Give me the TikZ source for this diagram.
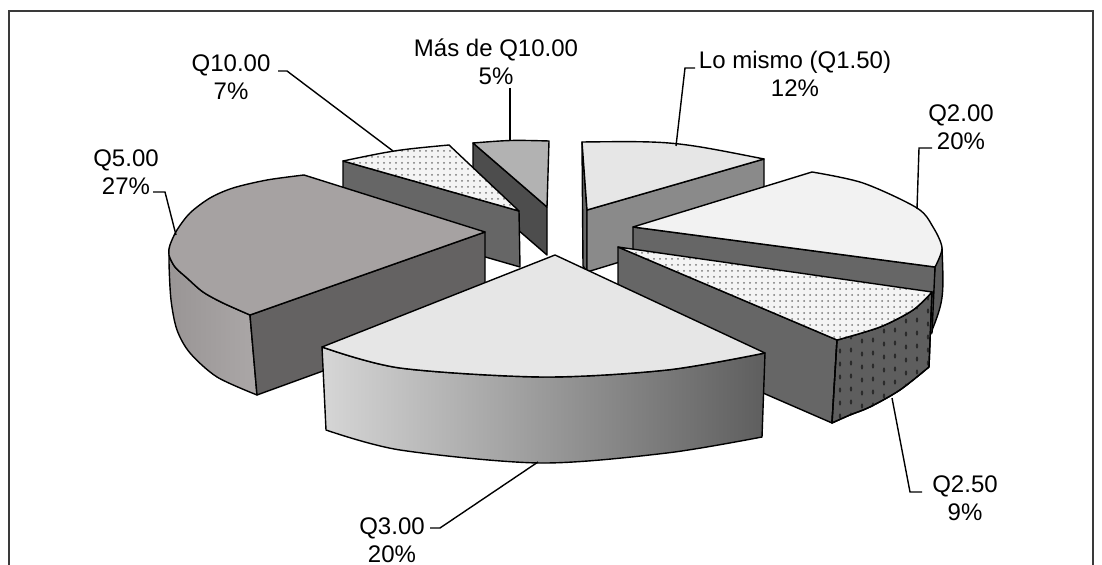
\documentclass[tikz,border=0pt]{standalone}
\usepackage{fontspec}
\setmainfont{Liberation Sans}
\usetikzlibrary{patterns}
\definecolor{sidegray}{HTML}{666666}
\definecolor{masdark}{HTML}{4D4D4D}
\definecolor{mastop}{HTML}{B2B2B2}
\definecolor{dottop}{HTML}{F4F4F4}
\definecolor{lomtop}{HTML}{E6E6E6}
\definecolor{lomside}{HTML}{8A8A8A}
\definecolor{qfivetop}{HTML}{A6A2A2}
\definecolor{qfiveside}{HTML}{646262}
\definecolor{qfiveL}{HTML}{999595}
\definecolor{qfiveR}{HTML}{ABA7A7}
\definecolor{qtwotop}{HTML}{F2F2F2}
\definecolor{qthreetop}{HTML}{E6E6E6}
\definecolor{qthreeL}{HTML}{D6D6D6}
\definecolor{qthreeR}{HTML}{5E5E5E}
\definecolor{qtfouter}{HTML}{5E5E5E}
\definecolor{darkdot}{HTML}{2B2B2B}
\definecolor{dotgray}{HTML}{777777}
\definecolor{framegray}{HTML}{3A3A3A}
\begin{document}
\begin{tikzpicture}[x=0.5pt,y=-0.5pt,
  edge/.style={draw=black,line width=0.7pt,line join=round},
  dotted face/.style={edge,preaction={fill=dottop},pattern=dots,pattern color=dotgray},
  lbl/.style={align=center,font=\fontsize{12}{14}\selectfont,inner sep=0pt},
  leader/.style={draw=black,line width=0.7pt},
  framestyle/.style={draw=framegray,line width=0.8pt}]
\useasboundingbox (0,0) rectangle (1102,565);
\begin{scope}
  \clip (0,0) rectangle (1102,565);
  \draw[framestyle] (9,11) rectangle (1093,600);
\end{scope}

% ---- Mas de Q10.00 (5%)
\filldraw[edge,fill=masdark] (473,143) -- (547,207) -- (547,255) -- (473,191) -- cycle;
\filldraw[edge,fill=mastop] (473,143) .. controls (511,140) .. (549,141) -- (547,207) -- cycle;

% ---- Q10.00 (7%)
\filldraw[edge,fill=sidegray] (343,161) -- (519,211) -- (520,267) -- (343,216) -- cycle;
\path[dotted face] (343,161) .. controls (396,150) .. (449,145) -- (519,211) -- cycle;

% ---- Lo mismo (12%)
\filldraw[edge,fill=lomside!75!black] (582,142) -- (587,210) -- (587,272) -- (583,266) -- cycle;
\filldraw[edge,fill=lomside] (587,210) -- (764,159) -- (764,218) -- (587,272) -- cycle;
\filldraw[edge,fill=lomtop] (582,142) .. controls (673,141) .. (764,159) -- (587,210) -- cycle;

% ---- Q5.00 (27%)
\path[edge,left color=qfiveL,right color=qfiveR] (250,315) -- (257,395) -- plot[smooth] coordinates {(257,395)(217,377)(190,353)(177,330)(171,300)(169,262)(170,245)} -- plot[smooth] coordinates {(170,245)(169,255)(175,267)(187,278)(203,292)(223,303)(250,315)} -- cycle;
\filldraw[edge,fill=qfiveside] (250,315) -- (485,232) -- (485,312) -- (257,395) -- cycle;
\filldraw[edge,fill=qfivetop] (304,175) -- (485,232) -- (250,315) -- plot[smooth] coordinates {(250,315)(223,303)(203,292)(187,278)(175,267)(169,255)(170,245)(177,230)(190,213)(210,198)(233,188)(267,180)(304,175)} -- cycle;

% ---- Q2.00 (20%)
\filldraw[edge,fill=sidegray!90!black] (942,248) .. controls (944,300) .. (929,338) -- (935,267) -- cycle;
\filldraw[edge,fill=sidegray] (633,227) -- (935,267) -- (932,333) -- (633,293) -- cycle;
\filldraw[edge,fill=qtwotop] (633,227) -- (812,172) -- plot[smooth] coordinates {(812,172)(863,183)(917,208)(933,227)(942,248)(935,267)} -- cycle;

% ---- Q2.50 (9%)
\filldraw[edge,fill=sidegray] (618,247) -- (837,340) -- (832,423) -- (618,330) -- cycle;
\filldraw[edge,fill=qtfouter] (837,340) -- plot[smooth] coordinates {(837,340)(880,327)(913,310)(932,292)} -- (929,367) -- plot[smooth] coordinates {(929,367)(900,390)(870,407)(850,415)(832,423)} -- cycle;
\begin{scope}
  \clip (837,340) -- plot[smooth] coordinates {(837,340)(880,327)(913,310)(932,292)} -- (929,367) -- plot[smooth] coordinates {(929,367)(900,390)(870,407)(850,415)(832,423)} -- cycle;
  \foreach \i in {0,...,10} {
    \foreach \j in {0,...,8} {
      \fill[darkdot] ({840+\i*11},{338+\j*13-\i*5+mod(\i,2)*4}) ellipse (0.6pt and 1.3pt);
    }
  }
\end{scope}
\draw[edge] (837,340) -- plot[smooth] coordinates {(837,340)(880,327)(913,310)(932,292)} -- (929,367) -- plot[smooth] coordinates {(929,367)(900,390)(870,407)(850,415)(832,423)} -- cycle;
\path[dotted face] (618,247) -- (932,292) -- plot[smooth] coordinates {(932,292)(913,310)(880,327)(837,340)} -- cycle;

% ---- Q3.00 (20%)
\path[edge,left color=qthreeL,right color=qthreeR] (322,347) -- plot[smooth] coordinates {(322,347)(400,368)(543,377)(667,370)(765,353)} -- (762,437) -- plot[smooth] coordinates {(762,437)(667,453)(540,463)(400,450)(326,430)} -- cycle;
\filldraw[edge,fill=qthreetop] (555,255) -- (322,347) -- plot[smooth] coordinates {(322,347)(400,368)(543,377)(667,370)(765,353)} -- cycle;

% ---- labels
\node[lbl] (lmas) at (496,62) {Más de Q10.00\\5\%};
\node[lbl] (lten) at (231,77) {Q10.00\\7\%};
\node[lbl] (llom) at (795,74) {Lo mismo (Q1.50)\\12\%};
\node[lbl] (ltwo) at (961,127) {Q2.00\\20\%};
\node[lbl] (lfive) at (126,172) {Q5.00\\27\%};
\node[lbl] (ltf) at (965,498) {Q2.50\\9\%};
\node[lbl] (lthree) at (392,540) {Q3.00\\20\%};

% ---- leader points
\coordinate (masA) at (510,88);   \coordinate (masB) at (510,141);
\coordinate (tenA) at (278,71);   \coordinate (tenK) at (287,71);   \coordinate (tenB) at (393,151);
\coordinate (lomA) at (695,68);   \coordinate (lomK) at (685,68);   \coordinate (lomB) at (676,146);
\coordinate (twoA) at (932,148);  \coordinate (twoK) at (919,148);  \coordinate (twoB) at (917,209);
\coordinate (fiveA) at (153,192); \coordinate (fiveK) at (165,192); \coordinate (fiveB) at (176,235);
\coordinate (tfA) at (922,492);   \coordinate (tfK) at (910,492);   \coordinate (tfB) at (892,398);
\coordinate (thrA) at (430,528);  \coordinate (thrK) at (440,528);  \coordinate (thrB) at (538,462);

\draw[leader] (masA) -- (masB);
\draw[leader] (tenA) -- (tenK) -- (tenB);
\draw[leader] (lomA) -- (lomK) -- (lomB);
\draw[leader] (twoA) -- (twoK) -- (twoB);
\draw[leader] (fiveA) -- (fiveK) -- (fiveB);
\draw[leader] (tfA) -- (tfK) -- (tfB);
\draw[leader] (thrA) -- (thrK) -- (thrB);
\end{tikzpicture}
\end{document}
